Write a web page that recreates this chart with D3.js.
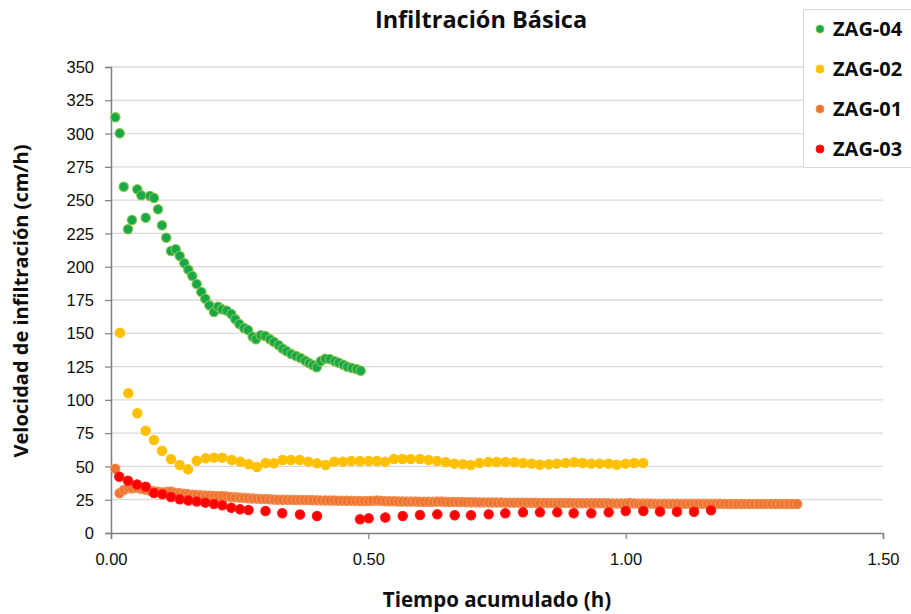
<!DOCTYPE html>
<html>
<head>
<meta charset="utf-8">
<script src="https://cdn.jsdelivr.net/npm/d3@7/dist/d3.min.js"></script>
<style>
  html, body { margin: 0; padding: 0; background: #fff; }
  svg { display: block; font-family: "Open Sans", Lato, sans-serif; }
</style>
</head>
<body>
<svg id="chart" width="911" height="614"></svg>
<script>
// Infiltration rate (cm/h) against accumulated time (h) for four test sites.

// ZAG-04: time (h) and rate (cm/h)
const zag04Time = [0.0084,0.0169,0.0247,0.0330,0.0408,0.0511,0.0589,0.0674,0.0758,0.0835,
  0.0913,0.0991,0.1074,0.1166,0.1257,0.1335,0.1424,0.1502,0.1580,0.1665,
  0.1755,0.1832,0.1910,0.2001,0.2079,0.2157,0.2248,0.2337,0.2415,0.2493,
  0.2584,0.2662,0.2753,0.2817,0.2909,0.2998,0.3089,0.3167,0.3258,0.3336,
  0.3414,0.3503,0.3595,0.3686,0.3775,0.3853,0.3925,0.3997,0.4074,0.4164,
  0.4255,0.4346,0.4424,0.4514,0.4591,0.4683,0.4774,0.4852];
const zag04Rate = [312.2,300.2,260.1,228.1,235.1,258.1,253.6,236.8,253.1,251.6,
  243.1,231.1,221.8,211.8,213.1,208.1,202.6,197.8,193.0,187.0,
  181.0,176.0,171.0,166.0,170.0,168.0,167.0,164.5,160.5,157.0,
  154.0,152.5,147.4,145.5,148.5,148.0,145.5,143.5,141.0,138.4,
  136.5,134.4,132.9,131.4,129.4,127.5,126.0,124.5,129.0,130.9,
  130.5,129.0,127.9,126.4,124.9,123.9,123.0,121.9];

// ZAG-02
const zag02Time = [0.0175,0.0337,0.0511,0.0674,0.0835,0.0991,0.1166,0.1335,0.1496,0.1665,
  0.1840,0.2001,0.2163,0.2345,0.2513,0.2675,0.2837,0.3006,0.3167,0.3336,
  0.3497,0.3666,0.3834,0.4003,0.4172,0.4339,0.4508,0.4669,0.4838,0.5007,
  0.5168,0.5330,0.5499,0.5663,0.5825,0.6006,0.6174,0.6336,0.6505,0.6674,
  0.6836,0.6991,0.7160,0.7335,0.7496,0.7665,0.7840,0.8007,0.8170,0.8331,
  0.8506,0.8662,0.8831,0.8998,0.9161,0.9329,0.9498,0.9667,0.9828,0.9997,
  1.0165,1.0340];
const zag02Rate = [150.4,104.9,89.9,76.8,69.9,61.8,55.6,51.1,47.8,54.3,
  56.1,56.6,56.6,54.8,53.6,51.6,49.6,52.6,52.3,54.8,
  54.8,54.8,53.6,52.3,51.1,53.6,53.6,54.1,54.1,54.1,
  54.1,53.6,55.6,55.6,55.6,55.6,54.8,54.1,53.1,52.1,
  51.6,51.1,52.6,53.3,53.3,53.3,53.1,52.6,52.1,51.3,
  51.6,52.1,52.6,53.1,52.6,52.1,52.1,52.1,51.3,52.1,
  52.6,52.6];

// ZAG-01: readings every half minute (time in minutes)
const zag01Minutes = [0.5,1,1.5,2,2.5,3,3.5,4,4.5,5,5.5,6,6.5,7,7.5,8,8.5,9,9.5,10,
  10.5,11,11.5,12,12.5,13,13.5,14,14.5,15,15.5,16,16.5,17,17.5,18,18.5,19,19.5,20,
  20.5,21,21.5,22,22.5,23,23.5,24,24.5,25,25.5,26,26.5,27,27.5,28,28.5,29,29.5,30,
  30.5,31,31.5,32,32.5,33,33.5,34,34.5,35,35.5,36,36.5,37,37.5,38,38.5,39,39.5,40,
  40.5,41,41.5,42,42.5,43,43.5,44,44.5,45,45.5,46,46.5,47,47.5,48,48.5,49,49.5,50,
  50.5,51,51.5,52,52.5,53,53.5,54,54.5,55,55.5,56,56.5,57,57.5,58,58.5,59,59.5,60,
  60.5,61,61.5,62,62.5,63,63.5,64,64.5,65,65.5,66,66.5,67,67.5,68,68.5,69,69.5,70,
  70.5,71,71.5,72,72.5,73,73.5,74,74.5,75,75.5,76,76.5,77,77.5,78,78.5,79,79.5,80];
const zag01Rate = [48.3,29.8,32.3,33.6,33.6,34.0,33.3,32.5,31.8,31.3,31.0,30.5,30.9,31.1,30.3,29.8,29.5,29.1,28.8,28.6,
  28.3,28.1,28.0,27.8,27.6,27.8,27.5,27.1,26.8,26.6,26.4,26.1,25.9,25.8,25.6,25.5,25.3,25.1,25.0,25.0,
  24.9,24.9,24.8,24.8,24.7,24.7,24.6,24.6,24.5,24.5,24.4,24.4,24.3,24.3,24.2,24.2,24.1,24.1,24.0,24.0,
  24.2,24.4,24.2,23.9,23.8,23.8,23.7,23.7,23.6,23.6,23.6,23.5,23.5,23.5,23.4,23.6,23.6,23.4,23.3,23.3,
  23.2,23.2,23.1,23.1,23.1,23.0,23.0,23.0,22.9,22.9,22.9,22.8,22.8,22.8,22.8,22.7,22.7,22.7,22.7,22.6,
  22.6,22.6,22.6,22.5,22.5,22.5,22.5,22.4,22.4,22.4,22.4,22.3,22.3,22.3,22.3,22.3,22.2,22.2,22.2,22.2,
  22.6,22.2,22.1,22.1,22.1,22.1,22.0,22.0,22.0,22.0,22.0,22.0,21.9,21.9,21.9,21.9,21.9,21.9,21.9,21.9,
  21.9,21.9,21.8,21.8,21.8,21.8,21.8,21.8,21.8,21.8,21.8,21.8,21.8,21.8,21.8,21.8,21.8,21.8,21.8,21.8];

// ZAG-03
const zag03Time = [0.0161,0.0330,0.0505,0.0674,0.0835,0.0997,0.1166,0.1335,0.1502,0.1665,
  0.1832,0.2001,0.2163,0.2337,0.2506,0.2672,0.3002,0.3328,0.3672,0.4003,
  0.4838,0.5007,0.5330,0.5668,0.6004,0.6340,0.6678,0.6995,0.7339,0.7661,
  0.8005,0.8335,0.8672,0.8990,0.9332,0.9670,1.0001,1.0343,1.0667,1.0997,
  1.1328,1.1658];
const zag03Rate = [42.3,39.3,36.4,34.8,30.0,29.1,27.0,25.3,24.4,23.7,
  22.8,21.8,20.8,19.0,17.8,17.3,16.5,14.8,13.9,12.8,
  10.3,11.0,11.6,12.8,13.5,14.0,13.3,13.3,14.0,14.8,
  15.5,15.5,15.5,14.8,14.8,15.5,16.5,16.5,16.1,16.0,
  16.0,17.0];

const yTicks = [0,25,50,75,100,125,150,175,200,225,250,275,300,325,350];
const xTicks = [0,0.5,1,1.5];

const series = [
  { name: "ZAG-04", time: zag04Time, rate: zag04Rate, fill: "#17a84b", stroke: "#86c448" },
  { name: "ZAG-02", time: zag02Time, rate: zag02Rate, fill: "#ffc000", stroke: "#ffc20a" },
  { name: "ZAG-01", time: zag01Minutes.map(m => m / 60), rate: zag01Rate, fill: "#ee7430", stroke: "#f29158" },
  { name: "ZAG-03", time: zag03Time, rate: zag03Rate, fill: "#ff0000", stroke: "#ff1a1a" }
];

const svg = d3.select("#chart");
const W = 911, H = 614;
const margin = { left: 111, right: 28, top: 67, bottom: 81 };

const x = d3.scaleLinear().domain([0, 1.5]).range([margin.left, W - margin.right]);
const y = d3.scaleLinear().domain([0, 350]).range([H - margin.bottom, margin.top]);

// horizontal gridlines
svg.append("g")
  .selectAll("line")
  .data(yTicks.filter(v => v > 0))
  .join("line")
  .attr("x1", x(0)).attr("x2", x(1.5))
  .attr("y1", d => y(d)).attr("y2", d => y(d))
  .attr("stroke", "#d9d9d9").attr("stroke-width", 1.3);

// y axis
const yAxis = svg.append("g")
  .attr("transform", `translate(${x(0)},0)`)
  .call(d3.axisLeft(y).tickValues(yTicks).tickFormat(d3.format("d")).tickSize(6).tickPadding(11));
yAxis.select(".domain").attr("stroke", "#7f7f7f").attr("stroke-width", 1.5);
yAxis.selectAll(".tick line").attr("stroke", "#7f7f7f").attr("stroke-width", 1.2);
yAxis.selectAll(".tick text").attr("fill", "#0d0d0d").style("font-size", "16.5px").attr("dy", "0.34em");

// x axis
const xAxis = svg.append("g")
  .attr("transform", `translate(0,${y(0)})`)
  .call(d3.axisBottom(x).tickValues(xTicks).tickFormat(d3.format(".2f")).tickSize(6).tickPadding(14));
xAxis.select(".domain").attr("stroke", "#7f7f7f").attr("stroke-width", 1.5);
xAxis.selectAll(".tick line").attr("stroke", "#7f7f7f").attr("stroke-width", 1.2);
xAxis.selectAll(".tick text").attr("fill", "#0d0d0d").style("font-size", "16.5px");

// markers
series.forEach(s => {
  svg.append("g")
    .selectAll("circle")
    .data(s.time.map((t, i) => [t, s.rate[i]]))
    .join("circle")
    .attr("cx", d => x(d[0]))
    .attr("cy", d => y(d[1]))
    .attr("r", 4.7)
    .attr("fill", s.fill)
    .attr("stroke", s.stroke)
    .attr("stroke-width", 1.1);
});

// titles
svg.append("text")
  .attr("x", 481).attr("y", 28)
  .attr("text-anchor", "middle")
  .style("font-size", "23.5px").style("font-weight", "bold").attr("fill", "#0d0d0d")
  .text("Infiltración Básica");

svg.append("text")
  .attr("x", 497).attr("y", 607)
  .attr("text-anchor", "middle")
  .style("font-size", "20.5px").style("font-weight", "bold").attr("fill", "#0d0d0d")
  .text("Tiempo acumulado (h)");

svg.append("text")
  .attr("transform", `translate(28,301) rotate(-90)`)
  .attr("text-anchor", "middle")
  .style("font-size", "20px").style("font-weight", "bold").attr("fill", "#0d0d0d")
  .text("Velocidad de infiltración (cm/h)");

// legend
const legend = svg.append("g");
legend.append("rect")
  .attr("x", 803.5).attr("y", 9.5).attr("width", 120).attr("height", 158)
  .attr("fill", "#fff").attr("stroke", "#d9d9d9").attr("stroke-width", 1);
const legendY = d3.scalePoint().domain(series.map(s => s.name)).range([29, 149]);
series.forEach(s => {
  legend.append("circle")
    .attr("cx", 820).attr("cy", legendY(s.name)).attr("r", 4)
    .attr("fill", s.fill).attr("stroke", s.stroke).attr("stroke-width", 1);
  legend.append("text")
    .attr("x", 833).attr("y", legendY(s.name)).attr("dy", "0.36em")
    .style("font-size", "20px").style("font-weight", "bold").attr("fill", "#0d0d0d")
    .text(s.name);
});
</script>
</body>
</html>
